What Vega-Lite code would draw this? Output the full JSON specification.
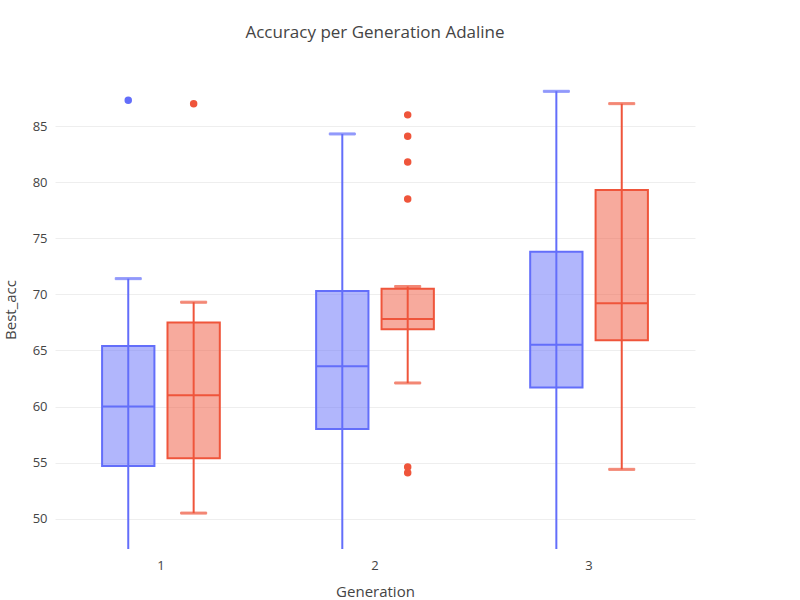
{
"$schema":"https://vega.github.io/schema/vega-lite/v6.json",
"width":640,"height":479,
"autosize":{"type":"none"},
"padding":{"left":55,"top":70,"right":105,"bottom":51},
"title":{"text":"Accuracy per Generation Adaline","font":"Open Sans","fontSize":17,"fontWeight":"normal","color":"#444","anchor":"middle","offset":28},
"config":{"view":{"stroke":null},"font":"Open Sans"},
"datasets":{
"box":[
{"gen":"1","trial":"T1_5","lo":40,"q1":54.7,"med":60.0,"q3":65.4,"hi":71.4},
{"gen":"1","trial":"T4_5","lo":50.5,"q1":55.4,"med":61.0,"q3":67.5,"hi":69.3},
{"gen":"2","trial":"T1_5","lo":40,"q1":58.0,"med":63.6,"q3":70.3,"hi":84.3},
{"gen":"2","trial":"T4_5","lo":62.1,"q1":66.9,"med":67.8,"q3":70.5,"hi":70.7},
{"gen":"3","trial":"T1_5","lo":40,"q1":61.7,"med":65.5,"q3":73.8,"hi":88.1},
{"gen":"3","trial":"T4_5","lo":54.4,"q1":65.9,"med":69.2,"q3":79.3,"hi":87.0}],
"out":[
{"gen":"1","trial":"T1_5","v":87.3},
{"gen":"1","trial":"T4_5","v":87.0},
{"gen":"2","trial":"T4_5","v":86.0},
{"gen":"2","trial":"T4_5","v":84.1},
{"gen":"2","trial":"T4_5","v":81.8},
{"gen":"2","trial":"T4_5","v":78.5},
{"gen":"2","trial":"T4_5","v":54.6},
{"gen":"2","trial":"T4_5","v":54.1}]
},
"encoding":{
"x":{"field":"gen","type":"nominal","title":"Generation","scale":{"paddingInner":0.45,"paddingOuter":0.22},
"axis":{"labelAngle":0,"domain":false,"ticks":false,"labelFontSize":13,"labelColor":"#444","titleFontSize":15,"titleColor":"#444","titleFontWeight":"normal","labelPadding":10,"titlePadding":12}},
"xOffset":{"field":"trial","type":"nominal","scale":{"paddingInner":0.2}},
"color":{"field":"trial","type":"nominal","scale":{"domain":["T1_5","T4_5"],"range":["#636efa","#EF553B"]},
"legend":{"title":null,"orient":"none","legendX":665,"legendY":10,"symbolType":"square","symbolSize":180,"symbolOpacity":0.5,"symbolStrokeWidth":2,"labelFontSize":13,"labelColor":"#444","rowPadding":8}},
"stroke":{"field":"trial","type":"nominal","scale":{"domain":["T1_5","T4_5"],"range":["#636efa","#EF553B"]},"legend":null}
},
"layer":[
{"data":{"name":"box"},"mark":{"type":"rule","strokeWidth":2,"clip":true},
"encoding":{"y":{"field":"lo","type":"quantitative","title":"Best_acc","scale":{"domain":[47.3,90],"nice":false,"zero":false},
"axis":{"values":[50,55,60,65,70,75,80,85],"domain":false,"ticks":false,"gridColor":"#eee","labelFontSize":13,"labelColor":"#444","titleFontSize":15,"titleColor":"#444","titleFontWeight":"normal","labelPadding":8,"titlePadding":14}},
"y2":{"field":"hi"}}},
{"data":{"name":"box"},"mark":{"type":"tick","thickness":2,"size":26,"clip":true},
"encoding":{"y":{"field":"hi","type":"quantitative"}}},
{"data":{"name":"box"},"mark":{"type":"tick","thickness":2,"size":26,"clip":true},
"encoding":{"y":{"field":"lo","type":"quantitative"}}},
{"data":{"name":"box"},"mark":{"type":"bar","fillOpacity":0.5,"strokeWidth":2},
"encoding":{"y":{"field":"q1","type":"quantitative"},"y2":{"field":"q3"}}},
{"data":{"name":"box"},"mark":{"type":"bar","fillOpacity":0,"strokeWidth":2},
"encoding":{"y":{"field":"med","type":"quantitative"},"y2":{"field":"med"}}},
{"data":{"name":"out"},"mark":{"type":"circle","size":30,"opacity":1},
"encoding":{"y":{"field":"v","type":"quantitative"}}}
]
}
